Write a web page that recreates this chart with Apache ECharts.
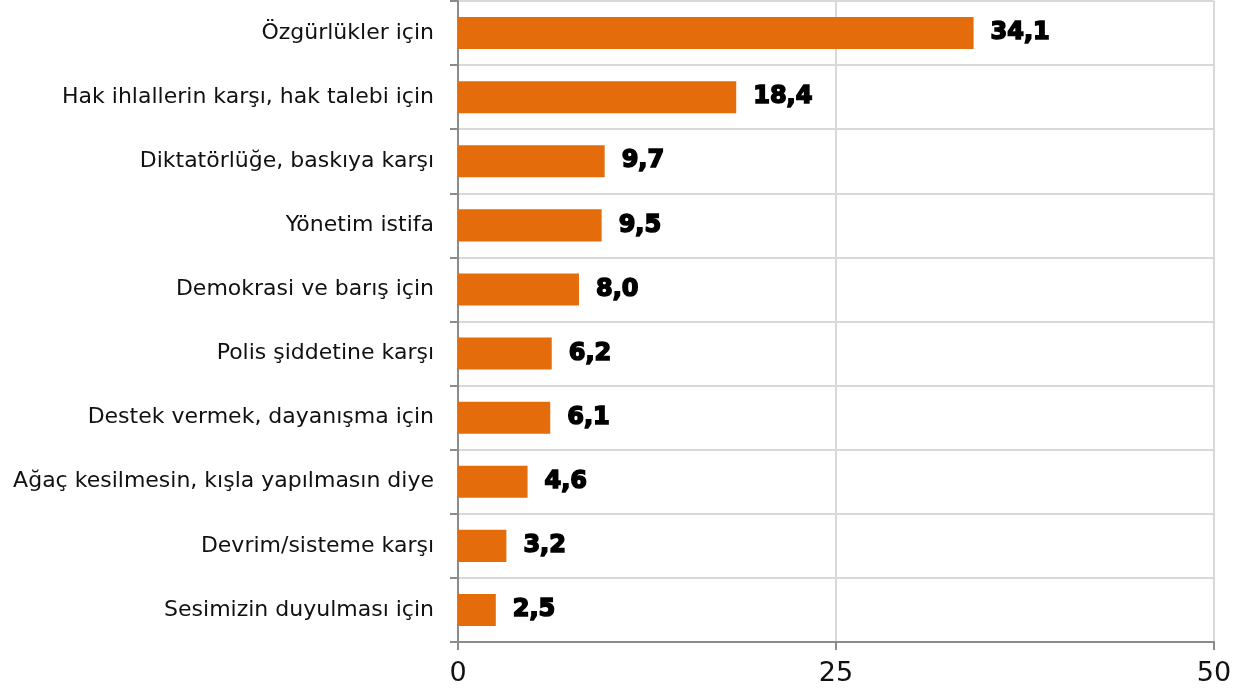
<!DOCTYPE html>
<html>
<head>
<meta charset="utf-8">
<script src="https://cdn.jsdelivr.net/npm/echarts@6/dist/echarts.min.js"></script>
<style>
  html, body { margin: 0; padding: 0; background: #fff; }
  #chart { width: 1244px; height: 692px; }
</style>
</head>
<body>
<div id="chart"></div>
<script>
// top to bottom as shown
const categories = [
  "Özgürlükler için",
  "Hak ihlallerin karşı, hak talebi için",
  "Diktatörlüğe, baskıya karşı",
  "Yönetim istifa",
  "Demokrasi ve barış için",
  "Polis şiddetine karşı",
  "Destek vermek, dayanışma için",
  "Ağaç kesilmesin, kışla yapılmasın diye",
  "Devrim/sisteme karşı",
  "Sesimizin duyulması için",
];
const values = [34.1, 18.4, 9.7, 9.5, 8.0, 6.2, 6.1, 4.6, 3.2, 2.5];
const xTicks = [0, 25, 50];

const chart = echarts.init(document.getElementById("chart"));

const option = {
  animation: false,
  grid: {
    left: 458,
    right: 30,
    top: 1,
    bottom: 50,
    containLabel: false,
  },
  xAxis: {
    type: "value",
    min: xTicks[0],
    max: xTicks[xTicks.length - 1],
    interval: 25,
    axisLine: { show: true, lineStyle: { color: "#8c8c8c", width: 2 } },
    axisTick: { show: true, length: 8, lineStyle: { color: "#8c8c8c", width: 2 } },
    axisLabel: {
      color: "#111",
      fontSize: 27,
      fontFamily: "DejaVu Sans",
      margin: 18,
    },
    splitLine: { show: true, lineStyle: { color: "#d9d9d9", width: 2 } },
  },
  yAxis: {
    type: "category",
    inverse: true,
    data: categories,
    axisLine: { show: true, lineStyle: { color: "#8c8c8c", width: 2 } },
    axisTick: { show: true, length: 8, lineStyle: { color: "#8c8c8c", width: 2 } },
    axisLabel: {
      color: "#111",
      fontSize: 22,
      fontFamily: "DejaVu Sans",
      margin: 24,
    },
    splitLine: { show: true, lineStyle: { color: "#d9d9d9", width: 2 } },
  },
  series: [
    {
      type: "bar",
      data: values,
      barWidth: "50%",
      itemStyle: { color: "#e46c0a" },
      label: {
        show: true,
        position: "right",
        distance: 17,
        color: "#000",
        fontSize: 24,
        fontWeight: "bold",
        fontFamily: "DejaVu Sans",
        textBorderColor: "#000",
        textBorderWidth: 1.6,
        formatter: (p) => p.value.toFixed(1).replace(".", ","),
      },
    },
  ],
};

chart.setOption(option);
</script>
</body>
</html>
